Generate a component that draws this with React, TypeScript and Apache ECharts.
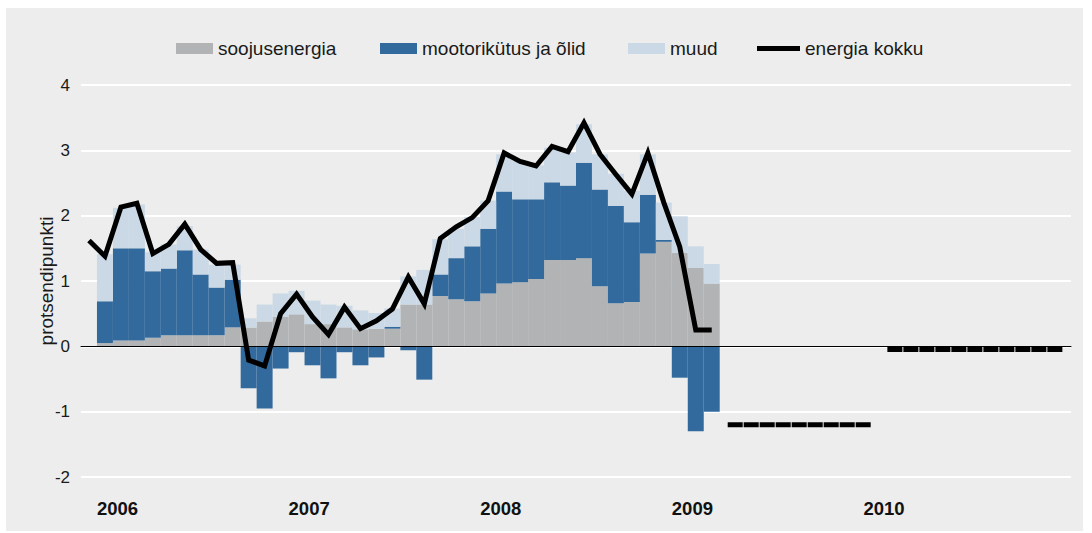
import React, { useEffect, useRef } from "react";
import * as echarts from "echarts";

// Months Dec 2005 .. Jan 2011 (62 categories)
const startYear = 2005;
const startMonth = 12;
const monthCount = 62;
const categories: string[] = [];
for (let i = 0; i < monthCount; i++) {
  const m = ((startMonth - 1 + i) % 12) + 1;
  const y = startYear + Math.floor((startMonth - 1 + i) / 12);
  categories.push(`${y}-${String(m).padStart(2, "0")}`);
}

// Year tick labels (placed at the start of each January)
const yearLabels = ["2006", "2007", "2008", "2009", "2010"];

// Jan 2006 .. Mar 2009
const soojusenergia = [
  0.05, 0.09, 0.09, 0.13, 0.17, 0.17, 0.17, 0.17, 0.29, 0.29, 0.38, 0.45,
  0.49, 0.34, 0.34, 0.29, 0.26, 0.27, 0.27, 0.64, 0.64, 0.77, 0.72, 0.69,
  0.81, 0.96, 0.98, 1.03, 1.32, 1.32, 1.35, 0.92, 0.66, 0.68, 1.42, 1.6,
  1.43, 1.2, 0.96,
];
const mootorikytus = [
  0.64, 1.41, 1.41, 1.02, 1.02, 1.3, 0.93, 0.73, 0.73, -0.64, -0.95, -0.34,
  -0.09, -0.29, -0.49, -0.09, -0.29, -0.17, 0.03, -0.06, -0.51, 0.33, 0.63, 0.84,
  0.99, 1.41, 1.27, 1.22, 1.19, 1.14, 1.46, 1.48, 1.49, 1.22, 0.9, 0.03,
  -0.48, -1.3, -1.0,
];
const muud = [
  0.72, 0.62, 0.67, 0.29, 0.37, 0.37, 0.38, 0.35, 0.23, 0.14, 0.26, 0.36,
  0.36, 0.36, 0.3, 0.33, 0.29, 0.24, 0.28, 0.43, 0.53, 0.54, 0.45, 0.45,
  0.43, 0.57, 0.59, 0.52, 0.53, 0.51, 0.59, 0.54, 0.49, 0.48, 0.62, 0.57,
  0.56, 0.33, 0.3,
];
// Dec 2005 .. Mar 2009
const energiaKokku = [
  1.62,
  1.38, 2.13, 2.19, 1.42, 1.56, 1.87, 1.48, 1.27, 1.28, -0.21, -0.3, 0.5,
  0.8, 0.45, 0.18, 0.6, 0.27, 0.39, 0.57, 1.06, 0.65, 1.65, 1.83, 1.97,
  2.23, 2.96, 2.83, 2.76, 3.06, 2.98, 3.42, 2.94, 2.63, 2.33, 2.96, 2.2,
  1.52, 0.25, 0.25,
];
// forecasts: 2009 (Apr 2009 .. Jan 2010), 2010 (Feb 2010 .. Jan 2011)
const prognoos2009 = [-1.2, -1.2, -1.2, -1.2, -1.2, -1.2, -1.2, -1.2, -1.2, -1.2];
const prognoos2010 = [-0.05, -0.05, -0.05, -0.05, -0.05, -0.05, -0.05, -0.05, -0.05, -0.05, -0.05, -0.05];

const C_GRAY = "#b2b3b5";
const C_BLUE = "#336a9d";
const C_LIGHT = "#cbd9e6";
const FONT = "Liberation Sans, Arial, Helvetica, sans-serif";

function pad(arr: number[], before: number): (number | null)[] {
  const out: (number | null)[] = [];
  for (let i = 0; i < monthCount; i++) {
    const j = i - before;
    out.push(j >= 0 && j < arr.length ? arr[j] : null);
  }
  return out;
}

export default function App() {
  const ref = useRef<HTMLDivElement>(null);
  useEffect(() => {
    if (!ref.current) return;
    const chart = echarts.init(ref.current, null, { renderer: "svg" });
    const edges: string[] = [];
    for (let i = 0; i <= monthCount; i++) edges.push(String(i));
    const janEdges: Record<number, string> = {};
    yearLabels.forEach((y, k) => {
      janEdges[1 + 12 * k] = y;
    });
    const legendBase = {
      top: 34,
      itemWidth: 37,
      itemHeight: 11,
      textStyle: { fontFamily: FONT, fontSize: 19, color: "#1a1a1a" },
      selectedMode: false,
    };
    const forecastStyle = { color: "#000", width: 5, type: [15, 1], cap: "butt" };
    chart.setOption({
      animation: false,
      legend: [
        { ...legendBase, left: 171, data: [{ name: "soojusenergia", icon: "rect" }] },
        { ...legendBase, left: 375, data: [{ name: "mootorikütus ja õlid", icon: "rect" }] },
        { ...legendBase, left: 623, data: [{ name: "muud", icon: "rect" }] },
        {
          ...legendBase,
          left: 752,
          itemWidth: 43,
          data: [{ name: "energia kokku", icon: "path://M0,0 H43 V5 H0 Z" }],
        },
      ],
      grid: { left: 81, right: 21, top: 85, bottom: 56 },
      xAxis: [
        {
          type: "category",
          data: categories,
          boundaryGap: true,
          axisLine: { onZero: true, lineStyle: { color: "#000", width: 1 } },
          axisTick: { show: false },
          axisLabel: { show: false },
          splitLine: { show: false },
          z: 5,
        },
        {
          type: "category",
          data: edges,
          boundaryGap: false,
          position: "bottom",
          axisLine: { show: false, onZero: false },
          axisTick: { show: false },
          splitLine: { show: false },
          axisLabel: {
            interval: (i: number) => janEdges[i] !== undefined,
            formatter: (_v: string, i: number) => janEdges[i] ?? "",
            align: "left",
            margin: 22,
            fontFamily: FONT,
            fontSize: 18.5,
            fontWeight: "bold",
            color: "#111",
          },
        },
      ],
      yAxis: {
        type: "value",
        min: -2,
        max: 4,
        interval: 1,
        name: "protsendipunkti",
        nameLocation: "middle",
        nameRotate: 90,
        nameGap: 25,
        nameMoveOverlap: false,
        nameTextStyle: { fontFamily: FONT, fontSize: 19, color: "#1a1a1a" },
        axisLine: { show: false },
        axisTick: { show: false },
        axisLabel: { fontFamily: FONT, fontSize: 17, color: "#1a1a1a", margin: 11 },
        splitLine: { lineStyle: { color: "#ffffff", width: 2 } },
      },
      series: [
        {
          name: "soojusenergia",
          type: "bar",
          stack: "s",
          barCategoryGap: "0%",
          itemStyle: { color: C_GRAY },
          data: pad(soojusenergia, 1),
        },
        {
          name: "mootorikütus ja õlid",
          type: "bar",
          stack: "s",
          barCategoryGap: "0%",
          itemStyle: { color: C_BLUE },
          data: pad(mootorikytus, 1),
        },
        {
          name: "muud",
          type: "bar",
          stack: "s",
          barCategoryGap: "0%",
          itemStyle: { color: C_LIGHT },
          data: pad(muud, 1),
        },
        {
          name: "energia kokku",
          type: "line",
          showSymbol: false,
          symbol: "none",
          itemStyle: { color: "#000" },
          lineStyle: { color: "#000", width: 5, join: "miter", cap: "butt" },
          data: pad(energiaKokku, 0),
          z: 4,
        },
        {
          name: "prognoos 2009",
          type: "line",
          symbol: "none",
          lineStyle: forecastStyle,
          data: pad(prognoos2009, 40),
          z: 4,
        },
        {
          name: "prognoos 2010",
          type: "line",
          symbol: "none",
          lineStyle: forecastStyle,
          data: pad(prognoos2010, 50),
          z: 4,
        },
      ],
    });
    return () => chart.dispose();
  }, []);
  return (
    <div
      style={{
        position: "absolute",
        left: 0,
        top: 0,
        width: 1092,
        height: 533,
        background: "#ffffff",
      }}
    >
      <div
        style={{
          position: "absolute",
          left: 6,
          top: 8,
          width: 1077,
          height: 523,
          background: "#ecedec",
        }}
      />
      <div ref={ref} style={{ position: "absolute", left: 0, top: 0, width: 1092, height: 533 }} />
    </div>
  );
}
